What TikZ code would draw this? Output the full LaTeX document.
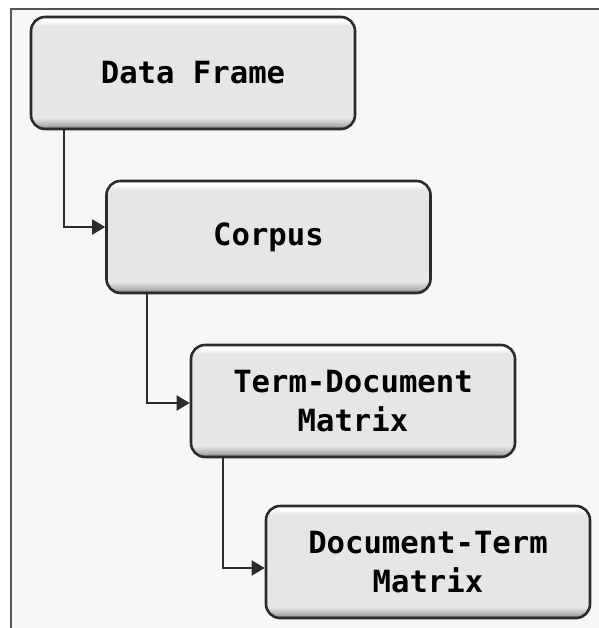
\documentclass[tikz,border=0pt]{standalone}
\usepackage{fontspec}
\setmonofont{DejaVu Sans Mono}
\usepackage{xcolor}
\usetikzlibrary{arrows.meta,positioning}

\definecolor{boxfill}{HTML}{E6E6E6}
\definecolor{boxedge}{HTML}{2B2B2B}
\definecolor{boxlow}{HTML}{5A5A5A}
\definecolor{panel}{HTML}{F7F7F7}
\pgfdeclareverticalshading{boxshade}{100bp}{color(0bp)=(boxlow);color(25bp)=(boxlow);color(26.5bp)=(boxfill!60!boxlow);color(30bp)=(boxfill);color(71bp)=(boxfill);color(73.5bp)=(white);color(75bp)=(white);color(100bp)=(white)}

\begin{document}
\begin{tikzpicture}[x=0.5pt,y=-0.5pt,
  stage/.style={draw=boxedge,line width=1.3pt,rounded corners=7pt,shading=boxshade,
    minimum width=162pt,minimum height=56pt,align=center,
    font=\fontsize{15.3}{19.5}\selectfont\ttfamily\bfseries},
  link/.style={draw=boxedge,line width=1pt,-{Triangle[length=6.5pt,width=7.5pt]}}]
\useasboundingbox (0,0) rectangle (599,628);
\fill[white](0,0) rectangle (599,628);
\fill[panel](10.5,8.5) rectangle (599,628);
\draw[boxedge!80,line width=1pt](10.5,628)--(10.5,8.5)--(599,8.5);
\node[stage] (frame) at (193,73) {Data Frame};
\node[stage] (corpus) at (268.5,237) {Corpus};
\node[stage] (tdm) at (353,401) {Term-Document\\Matrix};
\node[stage] (dtm) at (428,562) {Document-Term\\Matrix};
\draw[link]([xshift=17pt]frame.south west)|-([yshift=5pt]corpus.west);
\draw[link]([xshift=21pt]corpus.south west)|-([yshift=-1pt]tdm.west);
\draw[link]([xshift=16.5pt]tdm.south west)|-([yshift=-3pt]dtm.west);
\end{tikzpicture}
\end{document}
